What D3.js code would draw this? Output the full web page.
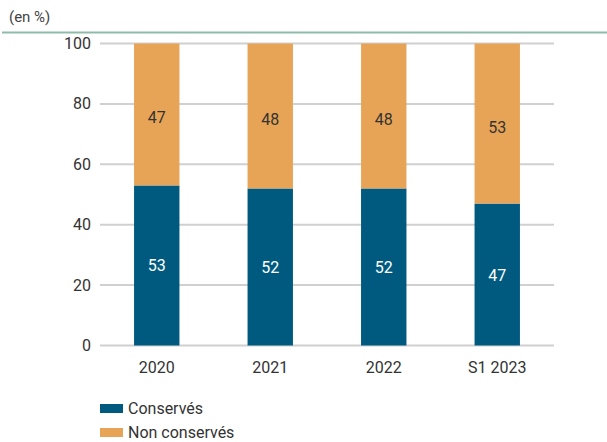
<!DOCTYPE html>
<html>
<head>
<meta charset="utf-8">
<script src="https://cdn.jsdelivr.net/npm/d3@7"></script>
<style>
  body { margin: 0; background: #fff; }
  svg text { font-family: "Liberation Sans Narrow", "Roboto", sans-serif; }
</style>
</head>
<body>
<svg id="chart" width="607" height="442"></svg>
<script>
var categories = ["2020", "2021", "2022", "S1 2023"];
var conserves = [53, 52, 52, 47];
var nonConserves = [47, 48, 48, 53];
var yTicks = [0, 20, 40, 60, 80, 100];
var seriesNames = ["Conservés", "Non conservés"];
var colors = ["#005a80", "#e8a456"];

var svg = d3.select("#chart");
var plotLeft = 100, plotRight = 554, plotTop = 43.5, plotBottom = 345.5;

var x = d3.scaleBand().domain(categories).range([plotLeft, plotRight]).paddingInner(0.6).paddingOuter(0.3);
var y = d3.scaleLinear().domain([0, 100]).range([plotBottom, plotTop]);

// header
svg.append("text").attr("x", 9).attr("y", 22).text("(en %)")
  .style("font-size", "15px").style("fill", "#444");
svg.append("line").attr("x1", 2).attr("x2", 607).attr("y1", 32.5).attr("y2", 32.5)
  .attr("stroke", "#8fbcaa").attr("stroke-width", 2);

// grid
svg.selectAll(".grid").data(yTicks).enter().append("line")
  .attr("x1", plotLeft).attr("x2", plotRight)
  .attr("y1", d => y(d)).attr("y2", d => y(d))
  .attr("stroke", "#d0d0d0").attr("stroke-width", 2);

svg.selectAll(".ytick").data(yTicks).enter().append("text")
  .attr("x", 91).attr("y", d => y(d) + 5.5)
  .attr("text-anchor", "end")
  .style("font-size", "16px").style("fill", "#333")
  .text(d => d);

var stacked = categories.map((c, i) => ({ cat: c, a: conserves[i], b: nonConserves[i] }));

// bars
stacked.forEach(d => {
  svg.append("rect").attr("x", x(d.cat)).attr("width", x.bandwidth())
    .attr("y", y(d.a)).attr("height", y(0) - y(d.a)).attr("fill", colors[0]);
  svg.append("rect").attr("x", x(d.cat)).attr("width", x.bandwidth())
    .attr("y", y(d.a + d.b)).attr("height", y(d.a) - y(d.a + d.b)).attr("fill", colors[1]);
  svg.append("text").attr("x", x(d.cat) + x.bandwidth() / 2).attr("y", y(d.a / 2) + 6)
    .attr("text-anchor", "middle").style("font-size", "16px").style("fill", "#fff").text(d.a);
  svg.append("text").attr("x", x(d.cat) + x.bandwidth() / 2).attr("y", y(d.a + d.b / 2) + 9)
    .attr("text-anchor", "middle").style("font-size", "16px").style("fill", "#333").text(d.b);
});

// x labels
svg.selectAll(".xlab").data(categories).enter().append("text")
  .attr("x", d => x(d) + x.bandwidth() / 2).attr("y", 373)
  .attr("text-anchor", "middle").style("font-size", "16px").style("fill", "#333")
  .text(d => d);

// legend
seriesNames.forEach((name, i) => {
  svg.append("rect").attr("x", 100).attr("y", 404 + i * 24).attr("width", 23).attr("height", 9)
    .attr("fill", colors[i]);
  svg.append("text").attr("x", 128).attr("y", 414 + i * 24).text(name)
    .style("font-size", "16px").style("fill", "#333");
});
</script>
</body>
</html>
